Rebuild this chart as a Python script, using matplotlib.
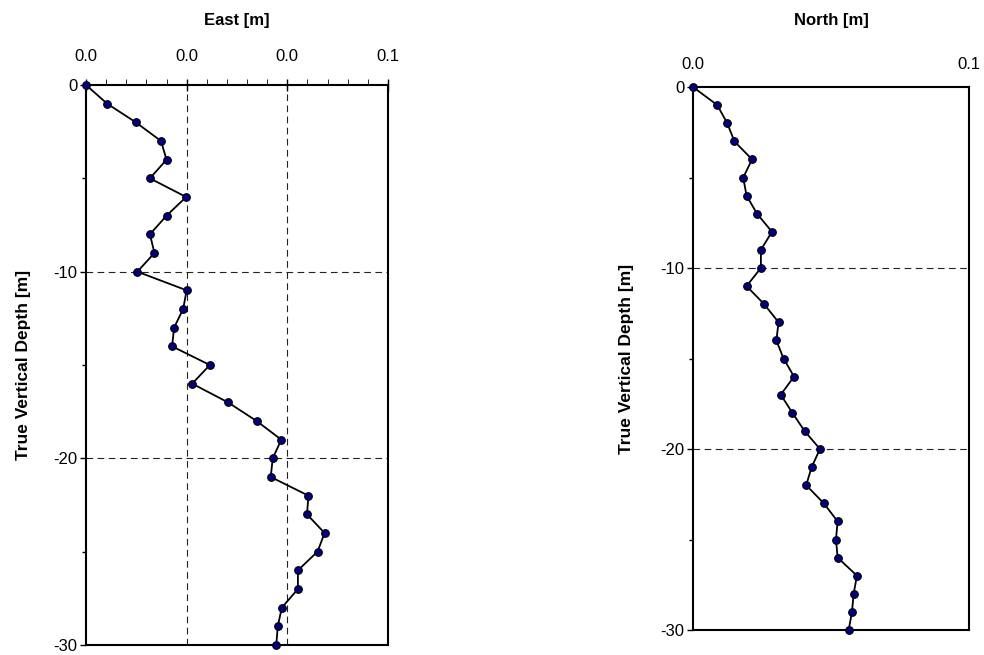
import numpy as np
import matplotlib.pyplot as plt
from matplotlib.ticker import FormatStrFormatter, MultipleLocator, AutoMinorLocator

plt.rcParams['font.family'] = ['Liberation Sans', 'DejaVu Sans']
plt.rcParams['axes.unicode_minus'] = False

# true vertical depth [m], one survey station per metre
depth = np.arange(0, -31, -1)

# east offset [m]
east = [0.0, 0.0042, 0.0099, 0.0149, 0.0160, 0.0127, 0.0199, 0.0160, 0.0127, 0.0136,
        0.0102, 0.0200, 0.0193, 0.0175, 0.0171, 0.0246, 0.0211, 0.0282, 0.0339, 0.0388,
        0.0371, 0.0367, 0.0442, 0.0439, 0.0474, 0.0460, 0.0421, 0.0421, 0.0389, 0.0381,
        0.0378]

# north offset [m]
north = [0.0, 0.0044, 0.0062, 0.0075, 0.0107, 0.0091, 0.0097, 0.0116, 0.0143, 0.0123,
         0.0123, 0.0097, 0.0129, 0.0155, 0.0151, 0.0164, 0.0183, 0.0159, 0.0180, 0.0202,
         0.0230, 0.0215, 0.0205, 0.0237, 0.0262, 0.0259, 0.0262, 0.0297, 0.0291, 0.0288,
         0.0282]

W, H = 984, 655
fig = plt.figure(figsize=(W / 100, H / 100), dpi=100)

# axes boxes in pixels: (left, top, right, bottom)
boxes = [(86, 85, 388, 645), (693, 87, 969, 630)]
panels = [
    ("East [m]", east, 0.06, 0.02, True),
    ("North [m]", north, 0.05, 0.05, False),
]
# pixel x of the rotated y label centre
ylab_x = [24, 626]

for (l, t, r, b), (title, vals, xmax, xstep, vgrid), yx in zip(boxes, panels, ylab_x):
    ax = fig.add_axes([l / W, 1 - b / H, (r - l) / W, (b - t) / H])
    ax.plot(vals, depth, color='black', lw=1.3, marker='o', ms=5.5,
            mfc='#000080', mec='black', mew=0.8, zorder=3, clip_on=False)
    ax.set_xlim(0, xmax)
    ax.set_ylim(-30, 0)

    ax.xaxis.tick_top()
    ax.xaxis.set_major_locator(MultipleLocator(xstep))
    ax.xaxis.set_major_formatter(FormatStrFormatter('%.1f'))
    ax.yaxis.set_major_locator(MultipleLocator(10))
    ax.yaxis.set_minor_locator(MultipleLocator(5))
    if vgrid:
        ax.xaxis.set_minor_locator(AutoMinorLocator(5))
        ax.tick_params(axis='x', which='major', direction='inout', length=8)
        ax.tick_params(axis='x', which='minor', direction='out', length=4)
    else:
        ax.tick_params(axis='x', which='major', length=0)
    ax.tick_params(axis='x', which='major', labelsize=12, pad=11, width=1)
    ax.tick_params(axis='y', which='major', labelsize=12, direction='out', length=4, width=1, pad=2)
    ax.tick_params(axis='y', which='minor', direction='out', length=3, width=1)

    for s in ax.spines.values():
        s.set_linewidth(1.5)

    for yv in (-10, -20):
        ax.axhline(yv, color='#222222', ls=(0, (6, 4)), lw=0.8, zorder=1)
    if vgrid:
        for xv in (0.02, 0.04):
            ax.axvline(xv, color='#222222', ls=(0, (6, 4)), lw=0.8, zorder=1)

    fig.text((l + r) / 2 / W, 1 - 20 / H, title, fontsize=12, fontweight='bold',
             ha='center', va='center')
    fig.text(yx / W, 1 - (t + b) / 2 / H, "True Vertical Depth [m]", fontsize=12.5,
             fontweight='bold', rotation=90, ha='center', va='center')

fig.savefig('out.png', dpi=100)
